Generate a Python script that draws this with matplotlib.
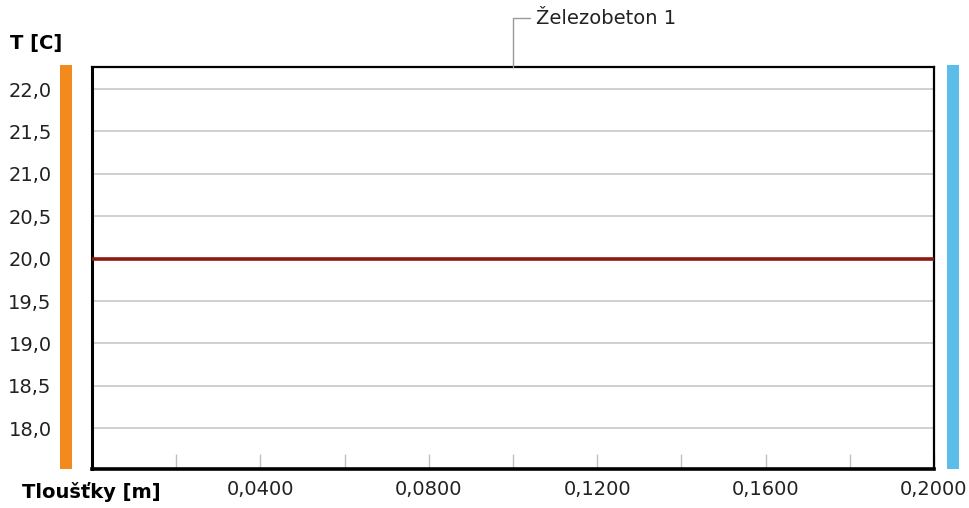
import matplotlib
matplotlib.use("Agg")
import matplotlib.pyplot as plt
from matplotlib.patches import Rectangle
from matplotlib.ticker import MultipleLocator, FuncFormatter

# Data
thickness = [0.0, 0.2]          # m
temperature = [20.0, 20.0]      # C
layer_name = "Železobeton 1"
layer_mid = 0.1
x_label = "Tloušťky [m]"
y_label = "T [C]"
x_ticks = [0.04, 0.08, 0.12, 0.16, 0.20]
y_ticks = [18.0, 18.5, 19.0, 19.5, 20.0, 20.5, 21.0, 21.5, 22.0]

W, H = 970, 508
fig = plt.figure(figsize=(W / 100, H / 100), dpi=100)
plt.rcParams['font.family'] = ['DejaVu Sans']

L, R, T, B = 92, 934, 67, 469
ax = fig.add_axes([L / W, (H - B) / H, (R - L) / W, (B - T) / H])

ax.plot(thickness, temperature, color="#8B1A10", lw=2.6, solid_capstyle="butt", zorder=3)
ax.set_xlim(0, 0.2)
ax.set_ylim(17.52, 22.26)

ax.set_yticks(y_ticks)
ax.yaxis.set_major_formatter(FuncFormatter(lambda v, p: f"{v:.1f}".replace(".", ",")))
ax.tick_params(axis="y", length=0, pad=29, labelsize=14, labelcolor="#222222")
ax.grid(axis="y", color="#c8c8c8", lw=1.2)

ax.set_xticks(x_ticks)
ax.xaxis.set_minor_locator(MultipleLocator(0.02))
ax.xaxis.set_major_formatter(FuncFormatter(lambda v, p: f"{v:.4f}".replace(".", ",")))
ax.tick_params(axis="x", which="both", direction="in", length=11, width=1, color="#c0c0c0",
               pad=8, labelsize=14, labelcolor="#222222")

for s in ax.spines.values():
    s.set_color("black")
    s.set_linewidth(1.6)
ax.spines["bottom"].set_linewidth(2.6)
ax.spines["left"].set_linewidth(2.2)
ax.set_axisbelow(True)

# boundary bars
fig.add_artist(Rectangle((60 / W, (H - B) / H), 12 / W, (B - 65) / H,
                         transform=fig.transFigure, color="#F28A1E", lw=0))
fig.add_artist(Rectangle((947 / W, (H - B) / H), 12 / W, (B - 65) / H,
                         transform=fig.transFigure, color="#5BBDE8", lw=0))

# axis titles
fig.text(10 / W, 1 - 44 / H, y_label, fontsize=14, fontweight="bold", va="center", ha="left")
fig.text(22 / W, 1 - 492 / H, x_label, fontsize=14, fontweight="bold", va="center", ha="left")

# layer label
ax.annotate(layer_name, xy=(layer_mid, 1.0), xycoords=("data", "axes fraction"),
            xytext=(536, H - 18), textcoords="figure pixels",
            fontsize=14, color="#222222", va="center", ha="left",
            arrowprops=dict(arrowstyle="-", color="#999999", lw=1,
                            shrinkA=2, shrinkB=0, relpos=(0, 0.5),
                            connectionstyle="angle,angleA=0,angleB=90,rad=0"))

fig.savefig("out.png", dpi=100)
